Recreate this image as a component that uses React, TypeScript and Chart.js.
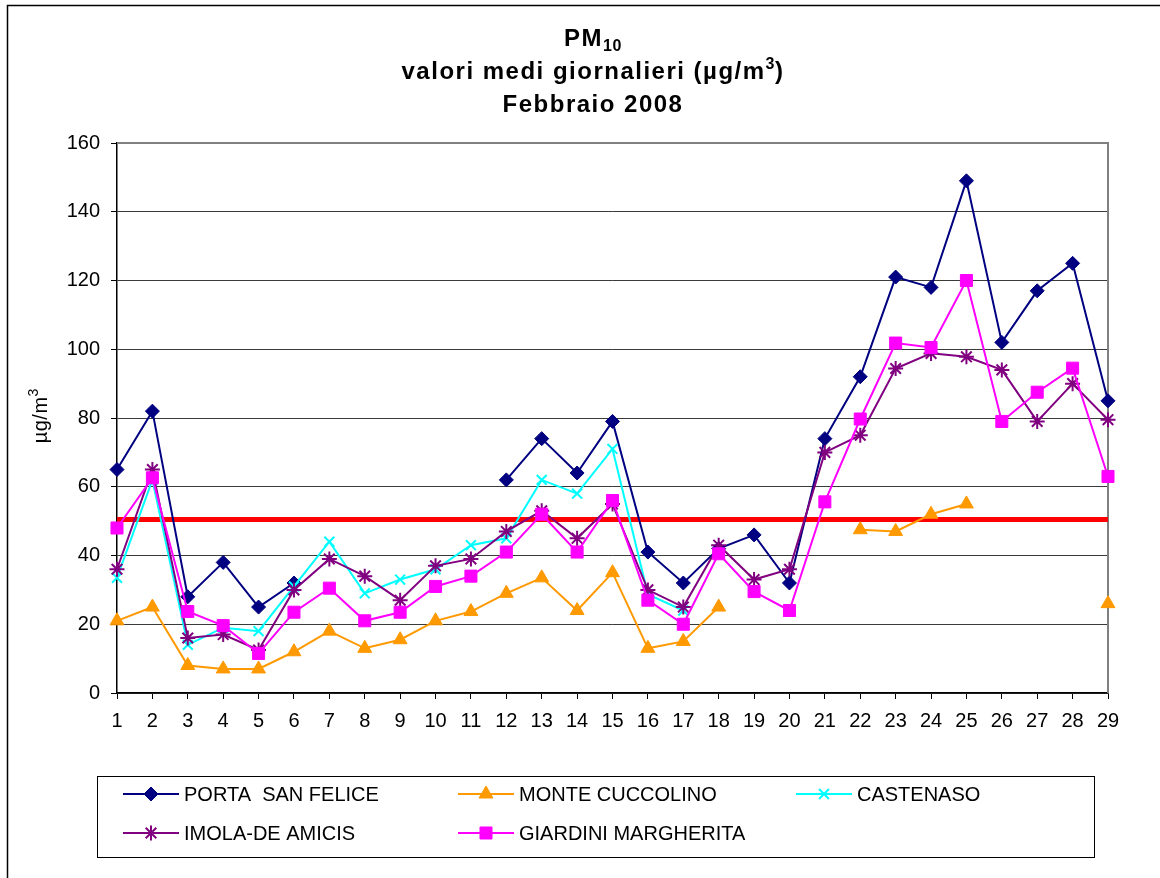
import React, { useEffect, useRef } from "react";
import { Chart, registerables } from "chart.js";
import { drawPoint } from "chart.js/helpers";

Chart.register(...registerables);

const FONT = "'Liberation Sans', Arial, Helvetica, sans-serif";

// ---------- data ----------
const DAYS = [
  "1", "2", "3", "4", "5", "6", "7", "8", "9", "10",
  "11", "12", "13", "14", "15", "16", "17", "18", "19", "20",
  "21", "22", "23", "24", "25", "26", "27", "28", "29",
];

const PORTA_SAN_FELICE = [
  65, 82, 28, 38, 25, 32, null, null, null, null,
  null, 62, 74, 64, 79, 41, 32, 42, 46, 32,
  74, 92, 121, 118, 149, 102, 117, 125, 85,
];

const MONTE_CUCCOLINO = [
  21, 25, 8, 7, 7, 12, 18, 13, 15.5, 21,
  23.7, 29, 33.5, 24, 35, 13, 15, 25, null, null,
  null, 47.5, 47, 52, 55, null, null, null, 26,
];

const CASTENASO = [
  33.5, 62, 14, 19, 18, 31, 44, 29, 33, 36,
  43, 45, 62, 58, 71, 28.7, 24, null, null, null,
  null, null, null, null, null, null, null, null, null,
];

const IMOLA_DE_AMICIS = [
  36, 65, 16, 17, 12.5, 30, 39, 34, 27, 37,
  39, 47, 53, 45, 55, 30, 25, 43, 33, 36,
  70, 75, 94.4, 98.8, 97.8, 94, 79, 90, 79.5,
];

const GIARDINI_MARGHERITA = [
  48, 62.6, 23.7, 19.6, 11.5, 23.5, 30.5, 21, 23.5, 31,
  34, 41, 52, 41, 56, 27, 20, 40.5, 29.5, 24,
  55.6, 79.7, 101.8, 100.5, 120, 79, 87.5, 94.5, 63,
];

const LIMIT_VALUE = 50.5;

const SERIES_LABELS = [
  "PORTA  SAN FELICE",
  "MONTE CUCCOLINO",
  "CASTENASO",
  "IMOLA-DE AMICIS",
  "GIARDINI MARGHERITA",
];

const Y_MIN = 0;
const Y_MAX = 160;
const Y_STEP = 20;

// ---------- drawing helpers ----------
type Run = { text: string; font: string; dy: number; spacing: number };

function measureRuns(ctx: CanvasRenderingContext2D, runs: Run[]) {
  let w = 0;
  for (const r of runs) {
    ctx.font = r.font;
    (ctx as any).letterSpacing = r.spacing + "px";
    w += ctx.measureText(r.text).width;
  }
  return w;
}

function drawRuns(ctx: CanvasRenderingContext2D, runs: Run[], cx: number, baseline: number) {
  const total = measureRuns(ctx, runs);
  let x = cx - total / 2;
  ctx.textAlign = "left";
  ctx.textBaseline = "alphabetic";
  for (const r of runs) {
    ctx.font = r.font;
    (ctx as any).letterSpacing = r.spacing + "px";
    ctx.fillText(r.text, x, baseline + r.dy);
    x += ctx.measureText(r.text).width;
  }
  (ctx as any).letterSpacing = "0px";
}

const BOLD = (s: number) => `bold ${s}px ${FONT}`;
const REG = (s: number) => `${s}px ${FONT}`;

const overlayPlugin = {
  id: "overlay",
  beforeDraw(chart: any) {
    const ctx: CanvasRenderingContext2D = chart.ctx;
    ctx.save();
    ctx.fillStyle = "#ffffff";
    ctx.fillRect(0, 0, chart.width, chart.height);
    // outer frame
    ctx.strokeStyle = "#000000";
    ctx.lineWidth = 1.5;
    ctx.beginPath();
    ctx.moveTo(7.5, chart.height);
    ctx.lineTo(7.5, 5.5);
    ctx.lineTo(chart.width, 5.5);
    ctx.stroke();
    ctx.restore();
  },
  beforeDatasetsDraw(chart: any) {
    const ctx: CanvasRenderingContext2D = chart.ctx;
    const a = chart.chartArea;
    ctx.save();
    ctx.strokeStyle = "#808080";
    ctx.lineWidth = 2;
    ctx.beginPath();
    ctx.moveTo(a.left, a.top);
    ctx.lineTo(a.right, a.top);
    ctx.lineTo(a.right, a.bottom);
    ctx.stroke();
    ctx.restore();
  },
  afterDraw(chart: any) {
    const ctx: CanvasRenderingContext2D = chart.ctx;
    ctx.save();
    ctx.fillStyle = "#000000";

    // title
    const cx = 593;
    drawRuns(ctx, [
      { text: "PM", font: BOLD(24), dy: 0, spacing: 1.5 },
      { text: "10", font: BOLD(16), dy: 5, spacing: 0.5 },
    ], cx, 46);
    drawRuns(ctx, [
      { text: "valori medi giornalieri (µg/m", font: BOLD(24), dy: 0, spacing: 1.5 },
      { text: "3", font: BOLD(16), dy: -10, spacing: 0.5 },
      { text: ")", font: BOLD(24), dy: 0, spacing: 1.5 },
    ], cx, 79);
    drawRuns(ctx, [
      { text: "Febbraio 2008", font: BOLD(24), dy: 0, spacing: 1.5 },
    ], cx, 112);

    // y axis title
    ctx.save();
    ctx.translate(47, 416);
    ctx.rotate(-Math.PI / 2);
    drawRuns(ctx, [
      { text: "µg/m", font: REG(20), dy: 0, spacing: 0.5 },
      { text: "3", font: REG(14), dy: -9, spacing: 0 },
    ], 0, 0);
    ctx.restore();

    // legend box
    ctx.strokeStyle = "#000000";
    ctx.lineWidth = 1;
    ctx.strokeRect(97.5, 776.5, 997, 81);

    const cols = [123, 458, 796];
    const rows = [794, 833];
    const lineLen = 56;
    chart.data.datasets.forEach((ds: any, i: number) => {
      if (i >= SERIES_LABELS.length) return;
      const x = cols[i % 3];
      const y = rows[Math.floor(i / 3)];
      ctx.strokeStyle = ds.borderColor;
      ctx.lineWidth = 2;
      ctx.beginPath();
      ctx.moveTo(x, y);
      ctx.lineTo(x + lineLen, y);
      ctx.stroke();
      ctx.fillStyle = ds.pointBackgroundColor;
      ctx.strokeStyle = ds.pointBorderColor;
      ctx.lineWidth = ds.pointBorderWidth;
      drawPoint(ctx, {
        pointStyle: ds.pointStyle,
        rotation: 0,
        radius: ds.pointRadius,
        borderWidth: ds.pointBorderWidth,
      } as any, x + lineLen / 2, y);
      ctx.fillStyle = "#000000";
      ctx.font = REG(20);
      ctx.textAlign = "left";
      ctx.textBaseline = "middle";
      ctx.fillText(SERIES_LABELS[i], x + lineLen + 5, y + 1);
    });

    ctx.restore();
  },
};

function series(label: string, data: (number | null)[], color: string, style: string, radius: number, bw: number, order: number) {
  return {
    label,
    data,
    borderColor: color,
    backgroundColor: color,
    pointBackgroundColor: color,
    pointBorderColor: color,
    pointStyle: style,
    pointRadius: radius,
    pointBorderWidth: bw,
    pointHoverRadius: radius,
    borderWidth: 2,
    tension: 0,
    spanGaps: false,
    order,
  };
}

export default function App() {
  const canvasRef = useRef<HTMLCanvasElement | null>(null);

  useEffect(() => {
    const canvas = canvasRef.current;
    if (!canvas) return;
    const chart = new Chart(canvas, {
      type: "line",
      data: {
        labels: DAYS,
        datasets: [
          series(SERIES_LABELS[0], PORTA_SAN_FELICE, "#000080", "rectRot", 7, 1, 5),
          series(SERIES_LABELS[1], MONTE_CUCCOLINO, "#FF9900", "triangle", 8, 1, 4),
          series(SERIES_LABELS[2], CASTENASO, "#00FFFF", "crossRot", 7, 2, 3),
          series(SERIES_LABELS[3], IMOLA_DE_AMICIS, "#800080", "star", 7.5, 2, 2),
          series(SERIES_LABELS[4], GIARDINI_MARGHERITA, "#FF00FF", "rect", 8.5, 1, 1),
          {
            label: "limite",
            data: DAYS.map(() => LIMIT_VALUE),
            borderColor: "#FF0000",
            backgroundColor: "#FF0000",
            borderWidth: 5,
            pointRadius: 0,
            pointHoverRadius: 0,
            tension: 0,
            order: 6,
          } as any,
        ],
      },
      options: {
        responsive: false,
        animation: false,
        devicePixelRatio: 1,
        layout: { padding: { left: 0, top: 143, right: 52, bottom: 145 } },
        plugins: {
          legend: { display: false },
          title: { display: false },
          tooltip: { enabled: false },
        },
        events: [],
        scales: {
          x: {
            type: "category",
            offset: false,
            ticks: {
              color: "#000000",
              font: { family: FONT, size: 20 },
              padding: 10,
              maxRotation: 0,
              autoSkip: false,
            },
            grid: {
              drawOnChartArea: false,
              drawTicks: true,
              tickLength: 6,
              tickColor: "#000000",
              tickWidth: 1,
            },
            border: { color: "#000000", width: 1.5 },
            afterFit(scale: any) {
              scale.height = 40;
            },
          },
          y: {
            min: Y_MIN,
            max: Y_MAX,
            ticks: {
              stepSize: Y_STEP,
              color: "#000000",
              font: { family: FONT, size: 20 },
              padding: 11,
            },
            grid: {
              color: "#3a3a3a",
              lineWidth: 1,
              drawTicks: true,
              tickLength: 6,
              tickColor: "#000000",
            },
            border: { color: "#000000", width: 1.5 },
            afterFit(scale: any) {
              scale.width = 117;
            },
          },
        },
      },
      plugins: [overlayPlugin],
    } as any);
    return () => chart.destroy();
  }, []);

  return (
    <div style={{ position: "absolute", left: 0, top: 0, width: 1160, height: 878, background: "#fff", overflow: "hidden" }}>
      <canvas ref={canvasRef} width={1160} height={878} style={{ width: 1160, height: 878, display: "block" }} />
    </div>
  );
}
